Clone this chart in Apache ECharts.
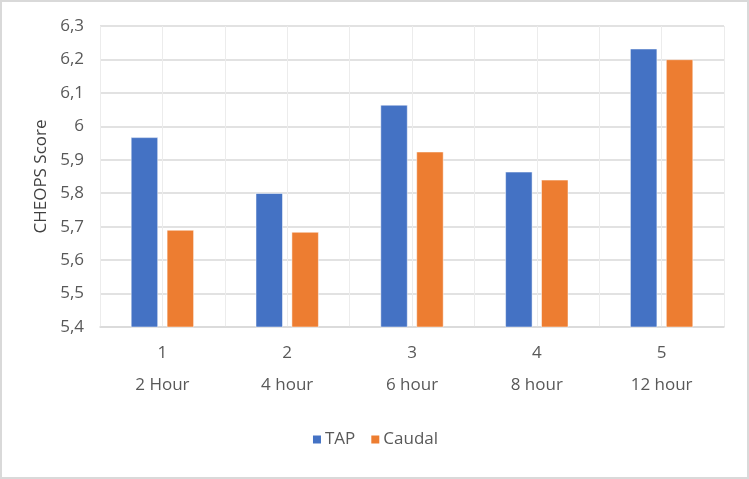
<!DOCTYPE html>
<html>
<head>
<meta charset="utf-8">
<script src="https://cdn.jsdelivr.net/npm/echarts@6/dist/echarts.min.js"></script>
<style>
  html, body { margin: 0; padding: 0; background: #fff; }
  #chart {
    width: 749px;
    height: 479px;
    box-sizing: border-box;
    border: 2px solid #d9d9d9;
  }
</style>
</head>
<body>
<div id="chart"></div>
<script>
// values
const groups = ['1', '2', '3', '4', '5']
const hours = ['2 Hour', '4 hour', '6 hour', '8 hour', '12 hour']
const tap = [5.967, 5.8, 6.064, 5.864, 6.232]
const caudal = [5.69, 5.684, 5.924, 5.84, 6.2]
const yMin = 5.4
const yMax = 6.3
const yStep = 0.1

const C = {
  blue: '#4472C4',
  orange: '#ED7D31',
  text: '#595959',
  grid: '#d9d9d9',
  gridV: '#ececec'
}

const fontFamily = '"Open Sans", "Liberation Sans", sans-serif'

// half-category slots so vertical gridlines fall on the boundaries and between bar pairs
const halfSlots = groups.flatMap((g) => [g + 'a', g + 'b'])

const fmtY = (v) => String(Number(v.toFixed(1))).replace('.', ',')

const chart = echarts.init(document.getElementById('chart'), null, { renderer: 'canvas' })

chart.setOption({
  animation: false,
  textStyle: { fontFamily },
  grid: { left: 98, right: 23, top: 24, bottom: 150 },
  legend: {
    bottom: 24,
    left: 'center',
    itemWidth: 10,
    itemHeight: 10,
    itemGap: 14,
    icon: 'rect',
    textStyle: { color: C.text, fontSize: 17, fontFamily, padding: [0, 0, 0, -2] },
    data: ['TAP', 'Caudal']
  },
  xAxis: [
    {
      type: 'category',
      data: groups.map((g, i) => g + '\n' + hours[i]),
      axisTick: { show: false },
      axisLine: { lineStyle: { color: C.grid, width: 1.5 } },
      axisLabel: {
        color: C.text,
        fontSize: 17,
        lineHeight: 32,
        margin: 10,
        interval: 0
      },
      splitLine: { show: false }
    },
    {
      type: 'category',
      data: halfSlots,
      position: 'bottom',
      axisLine: { show: false },
      axisTick: { show: false },
      axisLabel: { show: false },
      splitLine: { show: true, interval: 0, lineStyle: { color: C.gridV, width: 1 } }
    }
  ],
  yAxis: {
    type: 'value',
    min: yMin,
    max: yMax,
    interval: yStep,
    name: 'CHEOPS Score',
    nameLocation: 'middle',
    nameGap: 49,
    nameTextStyle: { color: '#404040', fontSize: 17, fontFamily },
    axisLine: { show: false },
    axisTick: { show: false },
    axisLabel: { color: C.text, fontSize: 17, margin: 16, formatter: fmtY },
    splitLine: { lineStyle: { color: C.grid, width: 1.5 } }
  },
  series: [
    {
      name: 'TAP',
      type: 'bar',
      barWidth: 27,
      barGap: '33%',
      itemStyle: { color: C.blue, borderColor: '#ffffff', borderWidth: 0.5 },
      data: tap
    },
    {
      name: 'Caudal',
      type: 'bar',
      barWidth: 27,
      barGap: '33%',
      itemStyle: { color: C.orange, borderColor: '#ffffff', borderWidth: 0.5 },
      data: caudal
    }
  ]
})
</script>
</body>
</html>
